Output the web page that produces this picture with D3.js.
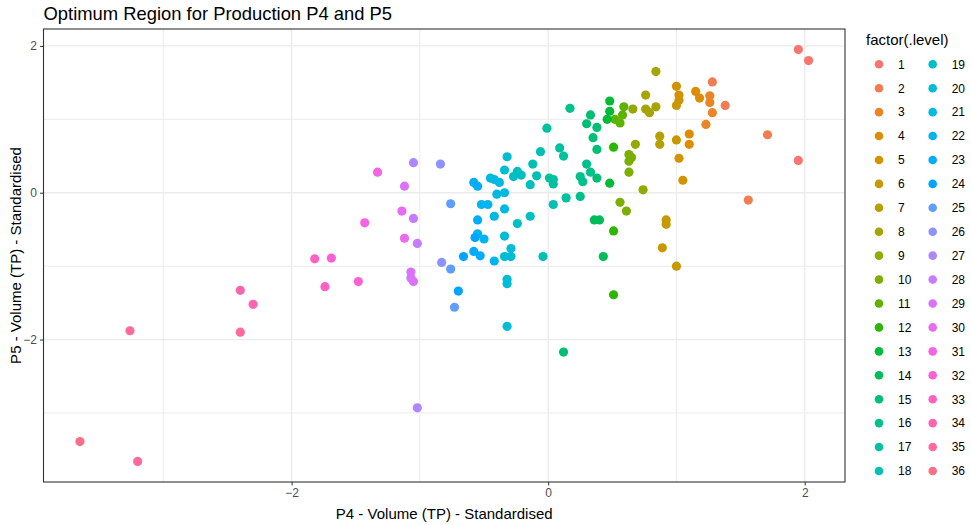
<!DOCTYPE html>
<html>
<head>
<meta charset="utf-8">
<script src="https://d3js.org/d3.v7.min.js"></script>
<style>
  body { margin: 0; background: #fff; }
  text { font-family: "Liberation Sans", Arial, sans-serif; }
</style>
</head>
<body>
<script>
const W = 971, H = 525;

// level of each point (factor(.level))
const pointLevel = [
  1, 1, 1,
  2, 2, 2, 2,
  3, 3, 3, 3,
  4, 4, 4, 4,
  5, 5, 5, 5, 5,
  6, 6, 6, 6, 6, 6,
  7, 7,
  8, 8, 8, 8, 8,
  9, 9, 9,
  10, 10, 10, 10, 10, 10,
  11, 11, 11, 11,
  12, 12, 12,
  13, 13, 13, 13,
  14, 14, 14,
  15, 15, 15, 15, 15, 15, 15,
  16, 16, 16, 16, 16, 16,
  17, 17, 17, 17, 17, 17, 17,
  18, 18, 18, 18, 18,
  19, 19, 19, 19, 19, 19,
  20, 20, 20, 20, 20, 20, 20, 20, 20,
  21, 21, 21, 21, 21, 21, 21,
  22, 22, 22, 22, 22,
  23, 23, 23, 23, 23,
  24, 24, 24,
  25, 25, 25,
  26, 26,
  27, 27,
  28, 28,
  29, 29, 29, 29,
  30, 30,
  31, 31,
  32, 32,
  33, 33,
  34, 34,
  35, 35, 35,
  36
];

// P4 - Volume (TP) - Standardised
const p4Values = [
  1.95, 2.03, 1.95,
  1.28, 1.38, 1.71, 1.56,
  1.26, 1.26, 1.28, 1.23,
  1.15, 1.18, 1.10, 1.10,
  1.00, 1.02, 1.02, 1.02, 1.05,
  1.00, 1.00, 0.92, 0.92, 0.89, 1.00,
  0.87, 0.87,
  0.84, 0.76, 0.76, 0.79, 0.84,
  0.66, 0.68, 0.74,
  0.63, 0.65, 0.63, 0.63, 0.56, 0.61,
  0.59, 0.52, 0.56, 0.58,
  0.51, 0.51, 0.51,
  0.48, 0.48, 0.46, 0.48,
  0.36, 0.40, 0.43,
  0.33, 0.30, 0.38, 0.35, 0.38, 0.38, 0.12,
  0.17, 0.30, 0.25, 0.27, 0.33, 0.25,
  -0.01, 0.09, 0.12, 0.01, 0.04, 0.04, 0.14,
  -0.06, -0.12, -0.09, 0.04, -0.04,
  -0.24, -0.27, -0.21, -0.14, -0.14, -0.24,
  -0.32, -0.34, -0.34, -0.29, -0.29, -0.34, -0.32, -0.32, -0.32,
  -0.45, -0.42, -0.38, -0.34, -0.40, -0.34, -0.42,
  -0.52, -0.47, -0.55, -0.50, -0.42,
  -0.58, -0.55, -0.58, -0.53, -0.55,
  -0.66, -0.70, -0.57,
  -0.76, -0.76, -0.73,
  -0.84, -0.83,
  -1.05, -1.02,
  -1.05, -1.02,
  -1.12, -1.07, -1.07, -1.05,
  -1.14, -1.12,
  -1.33, -1.43,
  -1.48, -1.69,
  -1.82, -1.74,
  -2.40, -2.30,
  -2.40, -3.26, -3.20,
  -3.65
];

// P5 - Volume (TP) - Standardised
const p5Values = [
  1.95, 1.80, 0.44,
  1.51, 1.19, 0.79, -0.10,
  1.32, 1.23, 1.09, 0.93,
  1.38, 1.29, 0.80, 0.66,
  1.45, 1.33, 1.26, 0.47, 0.17,
  1.19, 0.72, -0.37, -0.43, -0.75, -1.00,
  0.77, 0.66,
  1.65, 1.33, 1.14, 1.09, 1.17,
  1.14, 0.66, 0.04,
  0.52, 0.48, 0.43, 0.28, -0.13, -0.25,
  1.17, 1.00, 0.95, 1.06,
  0.62, -0.52, -1.39,
  1.25, 1.11, 1.00, 0.13,
  -0.37, -0.37, -0.87,
  1.06, 0.94, 0.89, 0.75, 0.59, 0.20, -2.17,
  1.15, 0.39, 0.22, 0.15, 0.28, -0.05,
  0.88, 0.61, 0.50, 0.20, 0.18, 0.12, -0.07,
  0.56, 0.39, 0.23, -0.16, -0.87,
  0.29, 0.22, 0.24, 0.11, -0.32, -0.42,
  0.49, 0.31, -0.59, -0.76, -0.87, -0.87, -1.18, -1.24, -1.82,
  0.20, 0.18, 0.14, 0.00, -0.02, -0.22, -0.32,
  -0.16, -0.16, -0.56, -0.63, -0.93,
  0.14, 0.09, -0.80, -0.86, -0.37,
  -0.87, -1.34, -0.61,
  -0.15, -1.04, -1.56,
  0.39, -0.95,
  0.41, -2.93,
  -0.35, -0.69,
  0.09, -1.08, -1.16, -1.21,
  -0.25, -0.62,
  0.28, -0.41,
  -1.21, -0.89,
  -0.90, -1.28,
  -1.33, -1.52,
  -1.90, -1.88, -3.66,
  -3.39
];

const levels = d3.range(1, 37);
const xTicks = [-2, 0, 2];
const xMinor = [-3, -1, 1];
const yTicks = [-2, 0, 2];
const yMinor = [-3, -1, 1];

// ggplot2 hue palette: polar LUV, c = 100, l = 65
function hclLuv(h, c, l) {
  const Xn = 95.047, Yn = 100, Zn = 108.883;
  const den = Xn + 15 * Yn + 3 * Zn;
  const un = 4 * Xn / den, vn = 9 * Yn / den;
  const rad = h * Math.PI / 180;
  const u = c * Math.cos(rad), v = c * Math.sin(rad);
  const Y = l > 8 ? Yn * Math.pow((l + 16) / 116, 3) : Yn * l / 903.3;
  const up = u / (13 * l) + un, vp = v / (13 * l) + vn;
  const X = 9 * Y * up / (4 * vp);
  const Z = -X / 3 - 5 * Y + 3 * Y / vp;
  const x = X / 100, y = Y / 100, z = Z / 100;
  const lin = [
    3.240479 * x - 1.537150 * y - 0.498535 * z,
    -0.969256 * x + 1.875992 * y + 0.041556 * z,
    0.055648 * x - 0.204043 * y + 1.057311 * z
  ];
  const g = lin.map(t => {
    t = t <= 0.0031308 ? 12.92 * t : 1.055 * Math.pow(t, 1 / 2.4) - 0.055;
    return Math.round(Math.max(0, Math.min(1, t)) * 255);
  });
  return d3.rgb(g[0], g[1], g[2]).formatHex();
}
const color = d3.scaleOrdinal()
  .domain(levels)
  .range(levels.map((d, i) => hclLuv(15 + i * 360 / levels.length, 100, 65)));

const points = pointLevel.map((lv, i) => ({ level: lv, x: p4Values[i], y: p5Values[i] }));

// panel box
const panelL = 43.5, panelR = 845, panelT = 29, panelB = 482;

function expand(ext) {
  const pad = (ext[1] - ext[0]) * 0.05;
  return [ext[0] - pad, ext[1] + pad];
}
const x = d3.scaleLinear().domain(expand(d3.extent(p4Values))).range([panelL, panelR]);
const y = d3.scaleLinear().domain(expand(d3.extent(p5Values))).range([panelB, panelT]);

const svg = d3.select("body").append("svg")
  .attr("width", W)
  .attr("height", H);

// grid
const grid = svg.append("g");
grid.selectAll("line.xminor").data(xMinor).join("line")
  .attr("x1", d => x(d)).attr("x2", d => x(d))
  .attr("y1", panelT).attr("y2", panelB)
  .attr("stroke", "#ebebeb").attr("stroke-width", 1);
grid.selectAll("line.yminor").data(yMinor).join("line")
  .attr("x1", panelL).attr("x2", panelR)
  .attr("y1", d => y(d)).attr("y2", d => y(d))
  .attr("stroke", "#ebebeb").attr("stroke-width", 1);
grid.selectAll("line.xmajor").data(xTicks).join("line")
  .attr("x1", d => x(d)).attr("x2", d => x(d))
  .attr("y1", panelT).attr("y2", panelB)
  .attr("stroke", "#ebebeb").attr("stroke-width", 1.3);
grid.selectAll("line.ymajor").data(yTicks).join("line")
  .attr("x1", panelL).attr("x2", panelR)
  .attr("y1", d => y(d)).attr("y2", d => y(d))
  .attr("stroke", "#ebebeb").attr("stroke-width", 1.3);

// points
svg.append("g")
  .selectAll("circle")
  .data(points)
  .join("circle")
  .attr("cx", d => x(d.x))
  .attr("cy", d => y(d.y))
  .attr("r", 4.6)
  .attr("fill", d => color(d.level));

// panel border
svg.append("rect")
  .attr("x", panelL).attr("y", panelT)
  .attr("width", panelR - panelL).attr("height", panelB - panelT)
  .attr("fill", "none")
  .attr("stroke", "#333333")
  .attr("stroke-width", 1.1);

// axes
const xAxis = svg.append("g")
  .attr("transform", `translate(0,${panelB})`)
  .call(d3.axisBottom(x).tickValues(xTicks).tickSize(3.5).tickPadding(3).tickFormat(d3.format("d")));
const yAxis = svg.append("g")
  .attr("transform", `translate(${panelL},0)`)
  .call(d3.axisLeft(y).tickValues(yTicks).tickSize(3.5).tickPadding(3).tickFormat(d3.format("d")));
[xAxis, yAxis].forEach(a => {
  a.select(".domain").remove();
  a.selectAll(".tick line").attr("stroke", "#333333");
  a.selectAll(".tick text")
    .attr("fill", "#4d4d4d")
    .style("font-size", "12px")
    .style("font-family", "'Liberation Sans', Arial, sans-serif");
});

// title and axis titles
svg.append("text")
  .attr("x", panelL)
  .attr("y", 19.5)
  .style("font-size", "18.4px")
  .attr("fill", "#000")
  .text("Optimum Region for Production P4 and P5");

svg.append("text")
  .attr("x", (panelL + panelR) / 2)
  .attr("y", 519)
  .attr("text-anchor", "middle")
  .style("font-size", "15px")
  .attr("fill", "#000")
  .text("P4 - Volume (TP) - Standardised");

svg.append("text")
  .attr("transform", `translate(20.5,${(panelT + panelB) / 2}) rotate(-90)`)
  .attr("text-anchor", "middle")
  .style("font-size", "15px")
  .attr("fill", "#000")
  .text("P5 - Volume (TP) - Standardised");

// legend
const legend = svg.append("g");
legend.append("text")
  .attr("x", 866)
  .attr("y", 45)
  .style("font-size", "15px")
  .attr("fill", "#000")
  .text("factor(.level)");

const rowH = 23.92, perCol = 18;
const keys = legend.selectAll("g.key")
  .data(levels)
  .join("g")
  .attr("class", "key")
  .attr("transform", (d, i) => {
    const col = Math.floor(i / perCol), row = i % perCol;
    return `translate(${879 + col * 53.7},${64.3 + row * rowH})`;
  });
keys.append("circle")
  .attr("r", 4.3)
  .attr("fill", d => color(d));
keys.append("text")
  .attr("x", 19)
  .attr("dy", "0.36em")
  .style("font-size", "12px")
  .attr("fill", "#000")
  .text(d => d);
</script>
</body>
</html>
